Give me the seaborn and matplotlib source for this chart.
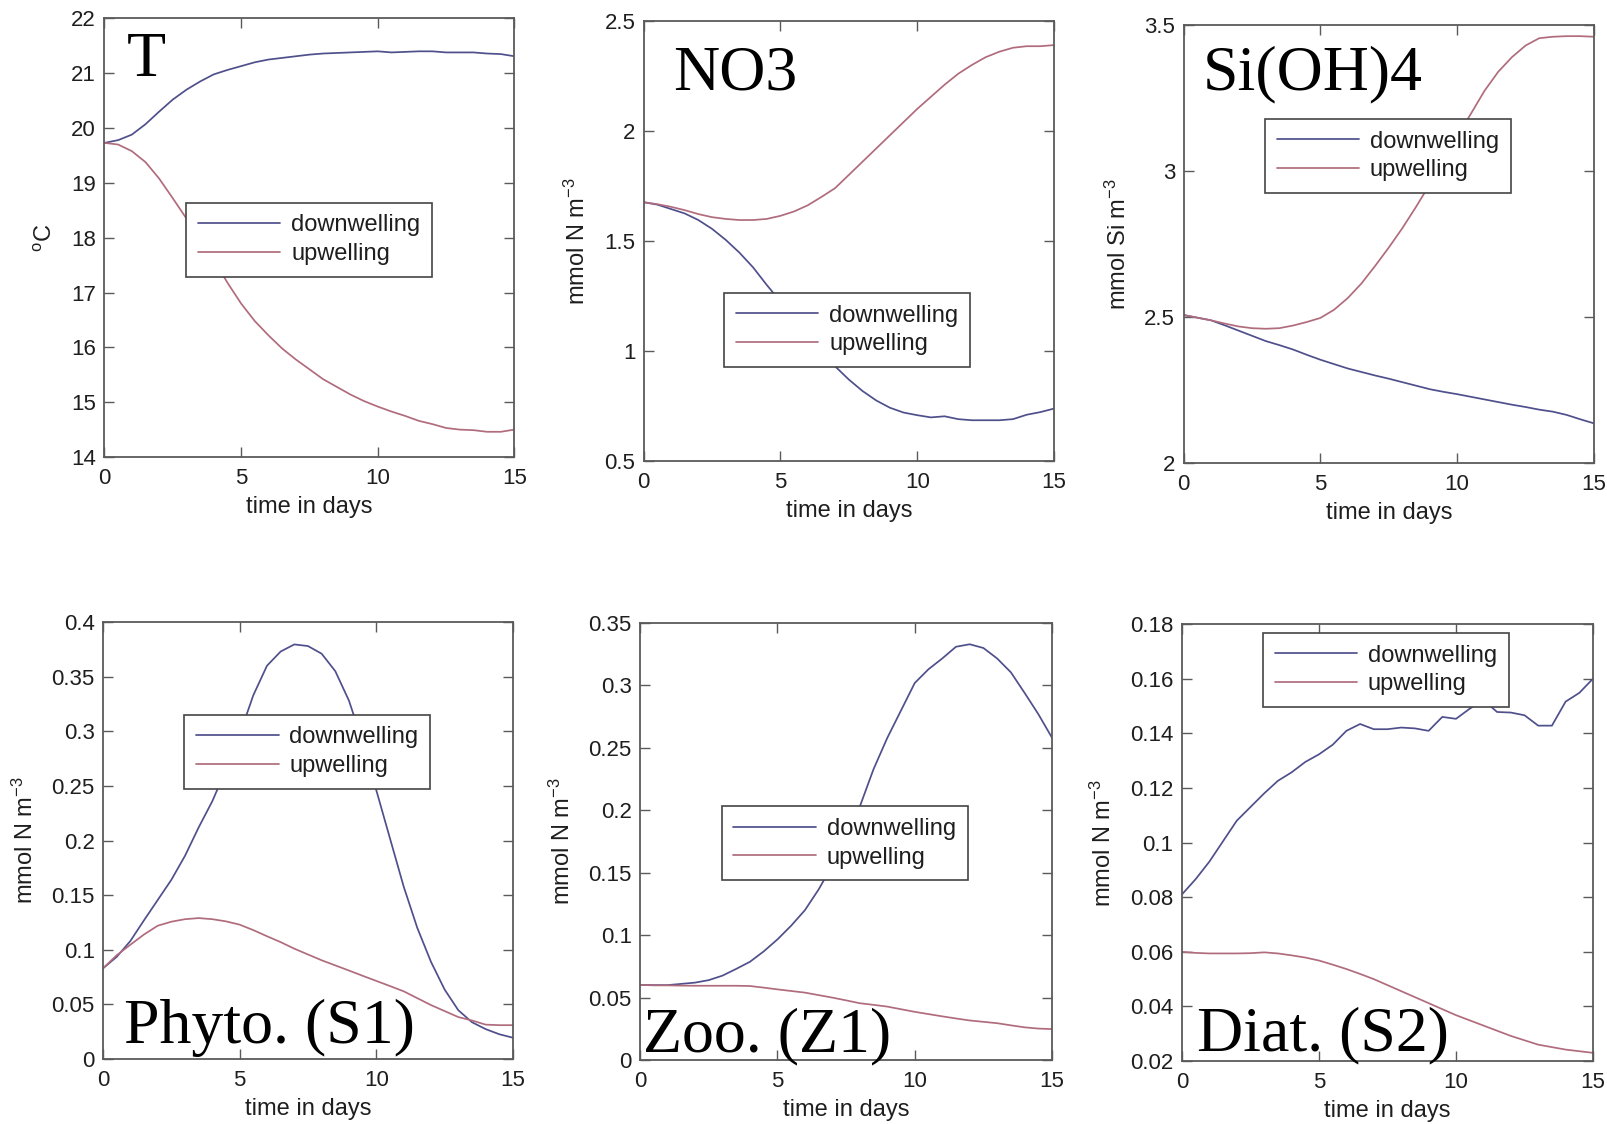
import numpy as np
import pandas as pd
import matplotlib
matplotlib.use("Agg")
import matplotlib.pyplot as plt
import seaborn as sns
from matplotlib.ticker import FuncFormatter

# ---- model output: surface values over 15 days, sampled every half day ----
days = [0.0, 0.5, 1.0, 1.5, 2.0, 2.5, 3.0, 3.5, 4.0, 4.5, 5.0, 5.5, 6.0, 6.5, 7.0, 7.5,
        8.0, 8.5, 9.0, 9.5, 10.0, 10.5, 11.0, 11.5, 12.0, 12.5, 13.0, 13.5, 14.0, 14.5, 15.0]

temp_down = [19.73, 19.78, 19.88, 20.07, 20.30, 20.52, 20.70, 20.85, 20.98, 21.06, 21.13,
             21.20, 21.25, 21.28, 21.31, 21.34, 21.36, 21.37, 21.38, 21.39, 21.40, 21.38,
             21.39, 21.40, 21.40, 21.38, 21.38, 21.38, 21.36, 21.35, 21.31]
temp_up = [19.73, 19.70, 19.58, 19.38, 19.08, 18.72, 18.35, 17.97, 17.60, 17.18, 16.80,
           16.48, 16.22, 15.98, 15.78, 15.60, 15.42, 15.28, 15.14, 15.02, 14.92, 14.83,
           14.75, 14.66, 14.60, 14.53, 14.50, 14.49, 14.46, 14.46, 14.50]

no3_down = [1.676, 1.665, 1.645, 1.625, 1.595, 1.555, 1.505, 1.447, 1.380, 1.300, 1.225,
            1.150, 1.080, 1.005, 0.930, 0.870, 0.818, 0.775, 0.742, 0.720, 0.708, 0.698,
            0.703, 0.690, 0.685, 0.685, 0.685, 0.690, 0.710, 0.722, 0.738]
no3_up = [1.676, 1.667, 1.655, 1.640, 1.622, 1.608, 1.600, 1.595, 1.595, 1.600, 1.614,
          1.634, 1.662, 1.700, 1.740, 1.800, 1.860, 1.920, 1.980, 2.040, 2.100, 2.155,
          2.210, 2.260, 2.300, 2.335, 2.360, 2.378, 2.385, 2.385, 2.390]

si_down = [2.507, 2.498, 2.489, 2.472, 2.454, 2.436, 2.418, 2.404, 2.389, 2.371, 2.354,
           2.339, 2.324, 2.312, 2.300, 2.289, 2.277, 2.265, 2.253, 2.244, 2.236, 2.227,
           2.218, 2.209, 2.200, 2.192, 2.183, 2.176, 2.165, 2.150, 2.136]
si_up = [2.507, 2.498, 2.489, 2.478, 2.468, 2.462, 2.460, 2.462, 2.471, 2.483, 2.497,
         2.525, 2.565, 2.615, 2.675, 2.738, 2.805, 2.878, 2.955, 3.035, 3.120, 3.196,
         3.275, 3.340, 3.390, 3.430, 3.455, 3.460, 3.462, 3.462, 3.460]

phyto_down = [0.083, 0.0935, 0.108, 0.127, 0.1455, 0.164, 0.186, 0.212, 0.236, 0.265, 0.297,
              0.333, 0.360, 0.373, 0.3795, 0.378, 0.371, 0.355, 0.328, 0.290, 0.246, 0.202,
              0.158, 0.120, 0.089, 0.0636, 0.0447, 0.0337, 0.0274, 0.0227, 0.0195]
phyto_up = [0.083, 0.095, 0.1046, 0.114, 0.122, 0.1257, 0.128, 0.129, 0.128, 0.126, 0.123,
            0.118, 0.1124, 0.107, 0.101, 0.0957, 0.0904, 0.0857, 0.081, 0.0762, 0.0715,
            0.0668, 0.062, 0.0557, 0.0494, 0.0439, 0.0384, 0.0353, 0.0315, 0.031, 0.031]

zoo_down = [0.0602, 0.0600, 0.0600, 0.0610, 0.062, 0.064, 0.0676, 0.073, 0.0787, 0.087, 0.0966,
            0.1076, 0.120, 0.1366, 0.156, 0.178, 0.203, 0.233, 0.258, 0.280, 0.302, 0.313,
            0.3216, 0.331, 0.333, 0.330, 0.3216, 0.3105, 0.294, 0.277, 0.258]
zoo_up = [0.0602, 0.0598, 0.0598, 0.0596, 0.0595, 0.0595, 0.0595, 0.0595, 0.0593, 0.058, 0.0566,
          0.0553, 0.054, 0.052, 0.050, 0.0478, 0.0455, 0.0442, 0.0428, 0.0407, 0.0386, 0.0368,
          0.035, 0.0333, 0.0317, 0.0306, 0.0295, 0.0278, 0.0262, 0.0252, 0.0248]

diat_down = [0.081, 0.0866, 0.093, 0.1005, 0.108, 0.113, 0.118, 0.1226, 0.1257, 0.1295, 0.1323,
             0.1358, 0.1409, 0.1434, 0.1415, 0.1415, 0.1421, 0.1418, 0.1409, 0.146, 0.1453,
             0.149, 0.1522, 0.1478, 0.1476, 0.1466, 0.1428, 0.1428, 0.1516, 0.1548, 0.160]
diat_up = [0.060, 0.0596, 0.0594, 0.0594, 0.0594, 0.0595, 0.0598, 0.0594, 0.0587, 0.0579, 0.0568,
           0.0553, 0.0537, 0.0519, 0.050, 0.0478, 0.0456, 0.0434, 0.0412, 0.039, 0.0368, 0.0349,
           0.033, 0.0311, 0.0292, 0.0276, 0.026, 0.0251, 0.0242, 0.0236, 0.023]

scenarios = ["downwelling", "upwelling"]
x_ticks = [0, 5, 10, 15]
x_label = "time in days"

# panel: (name, down, up, ylabel, y limits, y ticks, axes rect, legend anchor, name pos px)
panels = [
    ("T", temp_down, temp_up, r"$^{\mathrm{o}}$C", (14, 22), [14, 15, 16, 17, 18, 19, 20, 21, 22],
     [0.0650, 0.5934, 0.2551, 0.3902], (0.199, 0.580), (127, 76)),
    ("NO3", no3_down, no3_up, r"mmol N m$^{-3}$", (0.5, 2.5), [0.5, 1, 1.5, 2, 2.5],
     [0.4005, 0.5899, 0.2554, 0.3915], (0.196, 0.382), (673, 89)),
    ("Si(OH)4", si_down, si_up, r"mmol Si m$^{-3}$", (2, 3.5), [2, 2.5, 3, 3.5],
     [0.7365, 0.5880, 0.2554, 0.3897], (0.198, 0.786), (1203, 89)),
    ("Phyto. (S1)", phyto_down, phyto_up, r"mmol N m$^{-3}$", (0, 0.4),
     [0, 0.05, 0.1, 0.15, 0.2, 0.25, 0.3, 0.35, 0.4],
     [0.0641, 0.0578, 0.2551, 0.3888], (0.198, 0.788), (124, 1043)),
    ("Zoo. (Z1)", zoo_down, zoo_up, r"mmol N m$^{-3}$", (0, 0.35),
     [0, 0.05, 0.1, 0.15, 0.2, 0.25, 0.3, 0.35],
     [0.3983, 0.0569, 0.2564, 0.3888], (0.198, 0.581), (643, 1051)),
    ("Diat. (S2)", diat_down, diat_up, r"mmol N m$^{-3}$", (0.02, 0.18),
     [0.02, 0.04, 0.06, 0.08, 0.1, 0.12, 0.14, 0.16, 0.18],
     [0.7355, 0.0560, 0.2558, 0.3888], (0.197, 0.980), (1197, 1050)),
]

sns.set_theme(style="ticks")
plt.rcParams["font.family"] = ["Liberation Sans", "DejaVu Sans"]
plt.rcParams["mathtext.fontset"] = "custom"
plt.rcParams["mathtext.rm"] = "Liberation Sans"
plt.rcParams["mathtext.it"] = "Liberation Sans:italic"

C_DOWN = "#4f4f8c"
C_UP = "#b06c7c"
palette = {"downwelling": C_DOWN, "upwelling": C_UP}
SPINE = "#5a5a5a"
TEXT = "#1e1e1e"

W, H = 1607, 1124
fig = plt.figure(figsize=(W / 100, H / 100), dpi=100, facecolor="white")

fmt = FuncFormatter(lambda v, _: "%g" % round(v, 4))

for name, down, up, ylab, ylim, yticks, rect, anchor, name_px in panels:
    ax = fig.add_axes(rect)
    ax.set_facecolor("white")
    df = pd.DataFrame({
        "day": days + days,
        "value": list(down) + list(up),
        "scenario": [scenarios[0]] * len(days) + [scenarios[1]] * len(days),
    })
    sns.lineplot(data=df, x="day", y="value", hue="scenario", hue_order=scenarios,
                 palette=palette, estimator=None, sort=False, linewidth=1.25, ax=ax)

    ax.set_xlim(0, 15)
    ax.set_ylim(*ylim)
    ax.set_xticks(x_ticks)
    ax.set_yticks(yticks)
    ax.xaxis.set_major_formatter(fmt)
    ax.yaxis.set_major_formatter(fmt)
    ax.tick_params(direction="in", length=7, width=1.0, top=True, right=True,
                   labelsize=16, color=SPINE, labelcolor=TEXT)
    ax.tick_params(axis="x", pad=8)
    ax.tick_params(axis="y", pad=6)
    for sp in ax.spines.values():
        sp.set_visible(True)
        sp.set_color(SPINE)
        sp.set_linewidth(1.3)

    ax.set_xlabel(x_label, fontsize=17, color=TEXT, labelpad=5)
    ax.set_ylabel(ylab, fontsize=17, color=TEXT, labelpad=10)

    handles, labels = ax.get_legend_handles_labels()
    leg = ax.legend(handles, labels, loc="upper left", bbox_to_anchor=anchor,
                    borderaxespad=0, fontsize=17, frameon=True, fancybox=False,
                    framealpha=1, edgecolor="#444444", handlelength=3.5,
                    handletextpad=0.45, borderpad=0.5, labelspacing=0.28)
    leg.get_frame().set_linewidth(1.2)
    for t in leg.get_texts():
        t.set_color(TEXT)

    fig.text(name_px[0] / W, 1 - name_px[1] / H, name, fontsize=46,
             family=["Liberation Serif", "DejaVu Serif"], color="black",
             ha="left", va="baseline")

fig.savefig("out.png", dpi=100, facecolor="white")
